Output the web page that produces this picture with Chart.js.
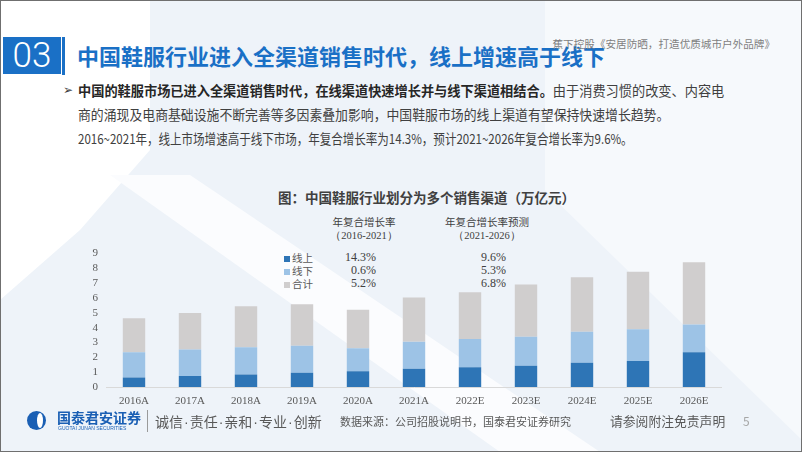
<!DOCTYPE html>
<html>
<head>
<meta charset="utf-8">
<script src="https://cdn.jsdelivr.net/npm/chart.js@4/dist/chart.umd.min.js"></script>
<style>
  html, body { margin: 0; padding: 0; }
  body { width: 802px; height: 452px; overflow: hidden; position: relative; background: #eef3f9;
         font-family: "Noto Sans CJK SC", "Noto Sans", sans-serif; color: #404040; }
  .abs { position: absolute; white-space: nowrap; }
  .bg { position: absolute; left: 0; top: 0; width: 802px; height: 452px; }
  .frame { position: absolute; left: 0; top: 0; width: 800px; height: 450px; border: 1px solid #6f6f6f; }
  .num { font-family: "Liberation Serif", serif; }
  .line { display: inline-block; transform-origin: 0 50%; }
  .dot { font-family: "Liberation Sans", sans-serif; margin: 0 1px; }
</style>
</head>
<body>
<!-- background shapes -->
<div class="bg" style="background:#ffffff; clip-path: polygon(0 0, 150px 0, 150px 150px, 80px 230px, 0 300px);"></div>
<div class="bg" style="background:#f6f9fc; clip-path: polygon(545px 0, 802px 0, 802px 440px, 545px 190px);"></div>
<div class="bg" style="background:#fbfcfe; clip-path: polygon(110px 175px, 190px 175px, 600px 452px, 500px 452px);"></div>

<div class="abs" style="left:3px; top:37px; width:58px; height:37px; background:#1a70c6; color:#fff;
     font-family:Roboto, sans-serif; font-weight:300; font-size:35px; line-height:37px; text-align:center;">03</div>
<div class="abs" style="left:62px; top:37px; width:3px; height:38px; background:#1a70c6;"></div>
<div class="abs" style="left:77px; top:40px; font-size:22px; font-weight:700; color:#1a70c6; line-height:30px;">中国鞋服行业进入全渠道销售时代，线上增速高于线下</div>
<div class="abs" style="right:27px; top:35px; font-size:10.6px; color:#7f7f7f; line-height:18px;">蕉下控股《安居防晒，打造优质城市户外品牌》</div>

<div class="abs" style="left:63px; top:80px; font-size:12px; color:#404040;">➢</div>
<div class="abs" style="left:78px; top:78px; font-size:13.4px; line-height:24px; color:#404040;">
  <span class="line" style="transform:scaleX(0.985)"><b style="color:#262626">中国的鞋服市场已进入全渠道销售时代，在线渠道快速增长并与线下渠道相结合。</b>由于消费习惯的改变、内容电</span><br>
  <span class="line" style="transform:scaleX(0.96)">商的涌现及电商基础设施不断完善等多因素叠加影响，中国鞋服市场的线上渠道有望保持快速增长趋势。</span><br>
  <span class="line" style="transform:scaleX(0.86)">2016~2021年，线上市场增速高于线下市场，年复合增长率为14.3%，预计2021~2026年复合增长率为9.6%。</span>
</div>

<div class="abs" style="left:278px; top:187px; font-size:13.5px; font-weight:700; color:#404040; line-height:20px;">图：中国鞋服行业划分为多个销售渠道（万亿元）</div>

<div class="abs" style="left:324px; top:215px; width:80px; text-align:center; font-size:10.5px; line-height:13px; color:#404040;">年复合增长率<br><span class="num">（2016-2021）</span></div>
<div class="abs" style="left:442px; top:215px; width:90px; text-align:center; font-size:10.5px; line-height:13px; color:#404040;">年复合增长率预测<br><span class="num">（2021-2026）</span></div>

<div class="abs" style="left:284px; top:251px; font-size:10.5px; line-height:13px; color:#595959;">
  <span style="display:inline-block;width:6px;height:6px;background:#2e75b6;margin-right:2px;"></span>线上<br>
  <span style="display:inline-block;width:6px;height:6px;background:#9dc3e6;margin-right:2px;"></span>线下<br>
  <span style="display:inline-block;width:6px;height:6px;background:#d0cece;margin-right:2px;"></span>合计
</div>
<div class="abs num" style="left:336px; top:251px; width:40px; text-align:right; font-size:12px; line-height:13px; color:#404040;">14.3%<br>0.6%<br>5.2%</div>
<div class="abs num" style="left:466px; top:251px; width:40px; text-align:right; font-size:12px; line-height:13px; color:#404040;">9.6%<br>5.3%<br>6.8%</div>

<div id="wrap" class="abs" style="left:80px; top:239px; width:642px; height:174px;"><canvas id="barre"></canvas></div>

<!-- footer -->
<div class="abs" style="left:27px; top:411px; width:19px; height:19px; border-radius:50%; background:#1a5fb4;"></div>
<div class="abs" style="left:37px; top:413px; width:6px; height:15px; border-radius:50%; background:#ffffff;"></div>
<div class="abs" style="left:57px; top:408px; font-size:14px; font-weight:700; color:#1a5fb4; line-height:18px;">国泰君安证券</div>
<div class="abs" style="left:58px; top:425px; font-size:5px; color:#1a5fb4; line-height:6px; font-family:'Liberation Sans';">GUOTAI JUNAN SECURITIES</div>
<div class="abs" style="left:147px; top:410px; width:1px; height:22px; background:#9a9a9a;"></div>
<div class="abs" style="left:155px; top:410px; font-size:14px; color:#595959; line-height:22px;">诚信<span class="dot">·</span>责任<span class="dot">·</span>亲和<span class="dot">·</span>专业<span class="dot">·</span>创新</div>
<div class="abs" style="left:340px; top:413px; font-size:11px; color:#595959; line-height:16px;">数据来源：公司招股说明书，国泰君安证券研究</div>
<div class="abs" style="left:610px; top:411px; font-size:12.8px; color:#595959; line-height:20px;">请参阅附注免责声明</div>
<div class="abs" style="left:743px; top:412px; font-size:12px; color:#a6a6a6; line-height:18px;">5</div>
<div class="frame"></div>

<script>
const categories = ["2016A", "2017A", "2018A", "2019A", "2020A", "2021A", "2022E", "2023E", "2024E", "2025E", "2026E"];
const online = [0.64, 0.74, 0.85, 0.96, 1.06, 1.23, 1.34, 1.43, 1.64, 1.75, 2.34];
const offline = [1.70, 1.79, 1.84, 1.83, 1.56, 1.82, 1.90, 1.96, 2.09, 2.15, 1.88];
const total = [2.29, 2.46, 2.75, 2.80, 2.60, 2.98, 3.16, 3.52, 3.67, 3.88, 4.20];
const yTicks = [0, 1, 2, 3, 4, 5, 6, 7, 8, 9];

let ctx = document.querySelector("#barre").getContext("2d");
let tickFont = { family: "Liberation Serif", size: 11 };

new Chart(ctx, {
  type: "bar",
  data: {
    labels: categories,
    datasets: [
      { label: "线上", data: online, backgroundColor: "#2e75b6" },
      { label: "线下", data: offline, backgroundColor: "#9dc3e6" },
      { label: "合计", data: total, backgroundColor: "#d0cece" }
    ]
  },
  options: {
    responsive: true,
    maintainAspectRatio: false,
    animation: false,
    layout: { padding: { top: 8, right: 0, left: 0, bottom: 0 } },
    datasets: { bar: { categoryPercentage: 0.8, barPercentage: 0.5 } },
    plugins: { legend: { display: false }, tooltip: { enabled: false } },
    scales: {
      x: {
        stacked: true,
        grid: { display: false, drawTicks: false, tickLength: 0 },
        border: { color: "#d9d9d9", width: 1 },
        ticks: { font: tickFont, color: "#595959", padding: 8, maxRotation: 0 },
        afterFit: (axis) => { axis.height = 26; }
      },
      y: {
        stacked: true,
        min: 0,
        max: 9,
        grid: { display: false, drawTicks: false, tickLength: 0 },
        border: { display: false },
        afterBuildTicks: (axis) => { axis.ticks = yTicks.map(v => ({ value: v })); },
        ticks: { font: tickFont, color: "#595959", padding: 8, autoSkip: false },
        afterFit: (axis) => { axis.width = 26; }
      }
    }
  }
});
</script>
</body>
</html>
